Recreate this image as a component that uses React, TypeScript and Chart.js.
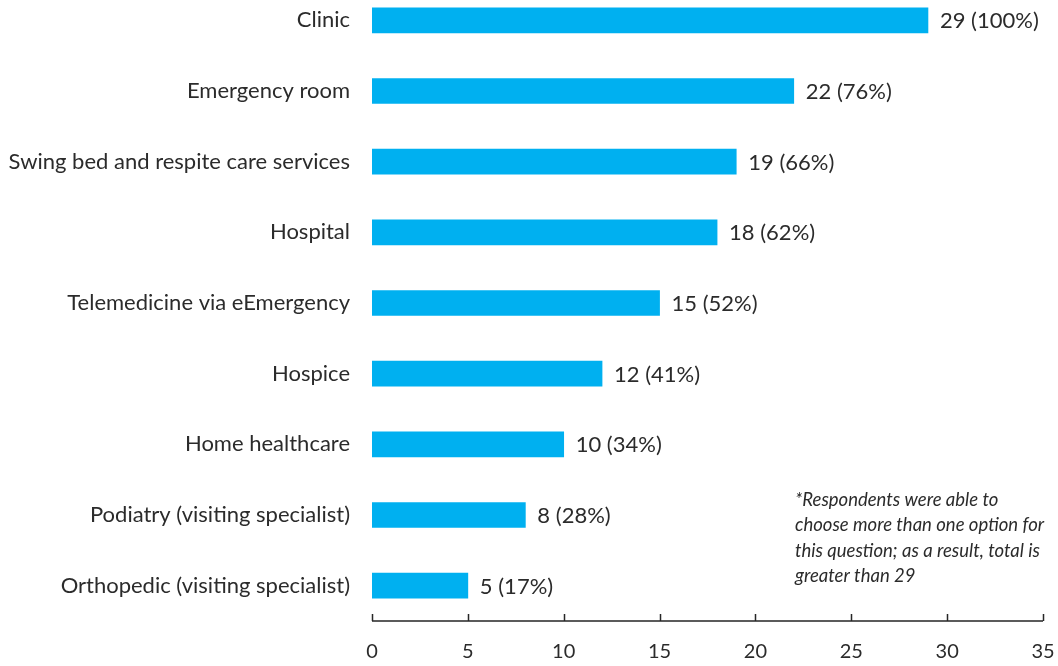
import React, { useEffect, useRef } from "react";
import { Chart, registerables } from "chart.js";

Chart.register(...registerables);

const categories = [
  "Clinic",
  "Emergency room",
  "Swing bed and respite care services",
  "Hospital",
  "Telemedicine via eEmergency",
  "Hospice",
  "Home healthcare",
  "Podiatry (visiting specialist)",
  "Orthopedic (visiting specialist)",
];
const counts = [29, 22, 19, 18, 15, 12, 10, 8, 5];
const percents = [100, 76, 66, 62, 52, 41, 34, 28, 17];
const xMin = 0;
const xMax = 35;
const xStep = 5;
const noteLines = [
  "*Respondents were able to",
  "choose more than one option for",
  "this question; as a result, total is",
  "greater than 29",
];

const FONT = "Lato, 'Open Sans', sans-serif";
const TEXT = "#2b2b2b";
const BAR = "#00B0F0";

function zeroPad(scale: any) {
  scale.paddingTop = 0;
  scale.paddingBottom = 0;
  scale.paddingLeft = 0;
  scale.paddingRight = 0;
}

export default function App() {
  const ref = useRef<HTMLCanvasElement | null>(null);

  useEffect(() => {
    if (!ref.current) return;
    const overlay = {
      id: "overlay",
      afterDatasetsDraw(chart: any) {
        const ctx = chart.ctx;
        const meta = chart.getDatasetMeta(0);
        ctx.save();
        ctx.font = `22px ${FONT}`;
        ctx.fillStyle = TEXT;
        ctx.textAlign = "left";
        ctx.textBaseline = "middle";
        meta.data.forEach((bar: any, i: number) => {
          ctx.fillText(`${counts[i]} (${percents[i]}%)`, bar.x + 12, bar.y + 1);
        });
        ctx.restore();
      },
      afterDraw(chart: any) {
        const ctx = chart.ctx;
        const xs = chart.scales.x;
        const area = chart.chartArea;
        ctx.save();
        ctx.strokeStyle = "#262626";
        ctx.lineWidth = 1.5;
        ctx.beginPath();
        ctx.moveTo(xs.getPixelForValue(xMin), area.bottom);
        ctx.lineTo(xs.getPixelForValue(xMax), area.bottom);
        for (let v = xMin; v <= xMax; v += xStep) {
          const px = Math.round(xs.getPixelForValue(v)) + 0.5;
          ctx.moveTo(px, area.bottom);
          ctx.lineTo(px, area.bottom - 7);
        }
        ctx.stroke();
        ctx.font = `italic 18.5px ${FONT}`;
        ctx.fillStyle = TEXT;
        ctx.textAlign = "left";
        ctx.textBaseline = "middle";
        noteLines.forEach((line, i) => {
          ctx.fillText(line, 795, 515 + i * 25.5);
        });
        ctx.restore();
      },
    };

    const chart = new Chart(ref.current, {
      type: "bar",
      data: {
        labels: categories,
        datasets: [
          {
            data: counts,
            backgroundColor: BAR,
            barThickness: 25,
            borderWidth: 0,
          },
        ],
      },
      options: {
        indexAxis: "y",
        animation: false,
        responsive: false,
        layout: { padding: { top: 0, right: 15, bottom: 0, left: 0 } },
        plugins: { legend: { display: false }, tooltip: { enabled: false } },
        scales: {
          x: {
            type: "linear",
            min: xMin,
            max: xMax,
            grid: { display: false, drawTicks: false },
            border: { display: false },
            ticks: {
              stepSize: xStep,
              padding: 19,
              color: TEXT,
              font: { family: FONT, size: 20 },
            },
            afterFit(scale: any) {
              scale.height = 45;
              zeroPad(scale);
            },
          },
          y: {
            type: "category",
            grid: { display: false, drawTicks: false },
            border: { display: false },
            ticks: {
              padding: 22,
              color: TEXT,
              font: { family: FONT, size: 22 },
            },
            afterFit(scale: any) {
              scale.width = 372;
              zeroPad(scale);
            },
          },
        },
      },
      plugins: [overlay],
    } as any);
    return () => chart.destroy();
  }, []);

  return (
    <div style={{ position: "absolute", left: 0, top: -15, width: 1058, height: 681 }}>
      <canvas ref={ref} width={1058} height={681} style={{ display: "block" }} />
    </div>
  );
}
